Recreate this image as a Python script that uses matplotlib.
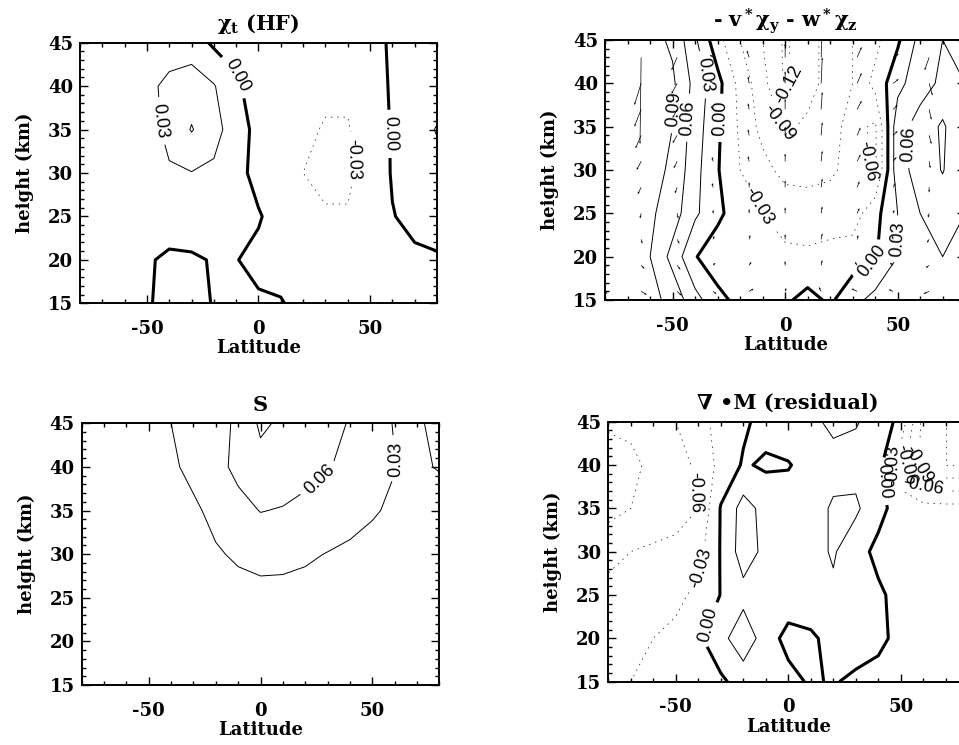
import matplotlib
matplotlib.use("Agg")
import numpy as np
import matplotlib.pyplot as plt
from matplotlib.ticker import MultipleLocator

# grid of the contour fields
lat = [-80, -70, -60, -50, -40, -30, -20, -10, 0, 10, 20, 30, 40, 50, 60, 70, 80]
height = [15, 20, 25, 30, 35, 40, 45]

# chi_t (HF), rows = height
chi_hf = [
    [0.004, 0.005, 0.004, 0.002, -0.006, -0.006, 0.001, 0.004, 0.004, 0.002, -0.01, -0.015, -0.015, -0.012, -0.01, -0.008, -0.006],
    [0.005, 0.006, 0.006, 0.003, -0.005, -0.004, 0.002, 0.001, -0.008, -0.012, -0.02, -0.025, -0.025, -0.02, -0.01, -0.004, -0.002],
    [0.006, 0.008, 0.01, 0.012, 0.015, 0.018, 0.016, 0.012, 0.003, -0.015, -0.025, -0.028, -0.028, -0.02, -0.001, 0.006, 0.008],
    [0.008, 0.01, 0.015, 0.02, 0.028, 0.029, 0.025, 0.012, -0.012, -0.025, -0.03, -0.035, -0.035, -0.018, 0.002, 0.012, 0.02],
    [0.008, 0.01, 0.015, 0.022, 0.035, 0.062, 0.04, 0.015, -0.01, -0.02, -0.025, -0.032, -0.032, -0.015, 0.002, 0.015, 0.032],
    [0.01, 0.012, 0.018, 0.025, 0.035, 0.045, 0.032, 0.005, -0.015, -0.02, -0.025, -0.025, -0.025, -0.012, 0.003, 0.01, 0.015],
    [0.01, 0.012, 0.015, 0.018, 0.02, 0.015, -0.005, -0.01, -0.015, -0.02, -0.02, -0.02, -0.02, -0.01, 0.004, 0.01, 0.012],
]

# - v* chi_y - w* chi_z
advection = [
    [0.1, 0.1, 0.1, 0.08, 0.04, 0.01, -0.01, -0.015, -0.005, 0.01, -0.005, 0.02, 0.04, 0.05, 0.06, 0.06, 0.05],
    [0.1, 0.1, 0.09, 0.05, 0.002, -0.02, -0.025, -0.025, -0.025, -0.025, -0.02, -0.015, -0.003, 0.03, 0.05, 0.06, 0.05],
    [0.1, 0.1, 0.095, 0.075, 0.035, 0.008, -0.02, -0.03, -0.04, -0.045, -0.045, -0.045, -0.01, 0.03, 0.06, 0.07, 0.06],
    [0.1, 0.1, 0.1, 0.085, 0.04, 0.002, -0.03, -0.05, -0.07, -0.07, -0.065, -0.05, -0.065, 0.05, 0.07, 0.092, 0.06],
    [0.1, 0.1, 0.1, 0.09, 0.045, 0.005, -0.035, -0.07, -0.095, -0.085, -0.07, -0.05, -0.065, 0.05, 0.07, 0.095, 0.06],
    [0.1, 0.1, 0.1, 0.095, 0.05, 0.01, -0.04, -0.08, -0.125, -0.1, -0.08, -0.06, -0.02, 0.02, 0.05, 0.065, 0.06],
    [0.1, 0.1, 0.1, 0.085, 0.035, -0.02, -0.06, -0.09, -0.125, -0.1, -0.08, -0.06, -0.04, -0.005, 0.04, 0.06, 0.05],
]

# S
source = [
    [0.0, 0.0, 0.0, 0.0, 0.001, 0.002, 0.003, 0.004, 0.005, 0.005, 0.004, 0.003, 0.002, 0.001, 0.0, 0.0, 0.0],
    [0.0, 0.0, 0.0, 0.001, 0.002, 0.004, 0.007, 0.009, 0.01, 0.01, 0.009, 0.008, 0.006, 0.004, 0.003, 0.002, 0.001],
    [0.0, 0.0, 0.001, 0.003, 0.006, 0.01, 0.015, 0.02, 0.022, 0.022, 0.02, 0.017, 0.013, 0.01, 0.007, 0.004, 0.003],
    [0.0, 0.0, 0.002, 0.005, 0.01, 0.017, 0.027, 0.034, 0.038, 0.037, 0.034, 0.029, 0.025, 0.02, 0.015, 0.01, 0.008],
    [0.0, 0.0, 0.005, 0.01, 0.015, 0.025, 0.038, 0.05, 0.061, 0.058, 0.052, 0.048, 0.04, 0.033, 0.025, 0.018, 0.015],
    [0.0, 0.002, 0.008, 0.015, 0.025, 0.038, 0.05, 0.068, 0.08, 0.078, 0.07, 0.062, 0.052, 0.04, 0.031, 0.025, 0.032],
    [0.0, 0.005, 0.01, 0.02, 0.03, 0.04, 0.05, 0.065, 0.095, 0.085, 0.075, 0.07, 0.058, 0.045, 0.028, 0.025, 0.04],
]

# div M (residual)
residual = [
    [-0.03, -0.03, -0.025, -0.02, -0.015, -0.005, 0.012, 0.015, 0.01, -0.004, 0.003, -0.008, -0.012, -0.012, -0.012, -0.012, -0.012],
    [-0.04, -0.035, -0.03, -0.025, -0.005, 0.02, 0.05, 0.015, -0.01, -0.005, 0.01, 0.02, 0.008, -0.01, -0.012, -0.012, -0.012],
    [-0.05, -0.045, -0.04, -0.035, -0.025, 0.001, 0.02, 0.02, 0.018, 0.02, 0.025, 0.02, 0.005, -0.01, -0.012, -0.012, -0.012],
    [-0.07, -0.06, -0.055, -0.05, -0.04, 0.002, 0.045, 0.022, 0.015, 0.02, 0.033, 0.012, -0.008, -0.012, -0.015, -0.015, -0.015],
    [-0.1, -0.09, -0.08, -0.075, -0.06, 0.002, 0.042, 0.02, 0.015, 0.02, 0.033, 0.035, 0.01, -0.015, -0.02, -0.02, -0.02],
    [-0.12, -0.1, -0.08, -0.07, -0.055, -0.02, 0.003, -0.004, -0.002, 0.012, 0.022, 0.02, 0.01, -0.05, -0.1, -0.12, -0.12],
    [-0.08, -0.08, -0.07, -0.06, -0.04, -0.02, -0.005, 0.01, 0.02, 0.025, 0.035, 0.032, 0.02, -0.01, -0.1, -0.12, -0.12],
]

# residual circulation arrows (v* in deg, w* in km)
q_lat = [-80, -64, -48, -32, -16, 0, 16, 32, 48, 64, 80]
q_height = [16, 19, 22, 25, 28, 31, 34, 37, 40, 43]
v_star = [
    [1.0, 2.5, 2.0, 1.5, 2.0, 0.5, -1.0, -2.5, -2.0, -2.5, -1.0],
    [0.5, 1.5, 1.5, 1.0, 1.0, 0.0, 0.5, -1.0, -1.5, -1.5, -1.0],
    [0.0, 0.5, 1.0, 0.5, 0.5, 0.0, 0.5, 0.5, -0.5, -1.0, -1.0],
    [0.0, -0.5, 0.5, 0.0, 0.0, 0.0, 0.5, 1.0, 0.5, -0.5, -0.5],
    [-0.5, -1.5, -1.0, -0.5, 0.0, 0.0, 0.5, 1.0, 1.0, 0.0, -0.5],
    [-1.5, -2.0, -1.5, -0.5, -0.5, 0.0, 0.5, 1.5, 1.5, 0.5, 0.0],
    [-2.0, -2.5, -2.0, -1.0, -0.5, 0.0, 0.5, 1.5, 2.0, 1.0, 0.0],
    [-2.5, -3.0, -2.0, -1.0, -0.5, 0.0, 0.5, 2.0, 2.0, 1.0, 0.0],
    [-3.0, -3.0, -2.5, -1.5, -0.5, 0.0, 0.5, 2.0, 2.5, 1.5, 0.5],
    [-3.0, -0.5, -2.5, -1.5, -1.0, 0.0, 0.5, 2.0, 2.5, -2.0, 0.5],
]
w_star = [
    [-0.3, -0.4, -0.5, -0.3, 0.3, 0.4, 0.5, 0.3, 0.2, -0.3, -0.3],
    [-0.3, -0.4, -0.5, 0.3, 0.4, 0.5, 0.6, 0.4, 0.3, -0.3, -0.4],
    [-0.4, -0.5, -0.5, 0.4, 0.5, 0.6, 0.7, 0.5, 0.4, -0.4, -0.5],
    [-0.5, -0.6, -0.6, 0.4, 0.5, 0.7, 0.8, 0.6, 0.4, -0.5, -0.6],
    [-0.6, -0.8, -0.7, 0.5, 0.6, 0.8, 1.0, 0.7, 0.5, -0.6, -0.7],
    [-1.0, -1.0, -0.8, 0.5, 0.6, 0.9, 1.2, 0.8, 0.5, -0.8, -0.9],
    [-3.5, -1.5, -0.9, 0.5, 0.7, 1.0, 1.5, 0.9, 0.5, -1.0, -1.0],
    [-1.2, -2.0, -1.0, 0.4, 0.7, 1.2, 2.0, 1.0, 0.5, -1.2, -1.2],
    [-1.5, -2.5, -1.2, 0.3, 0.8, 1.4, 3.0, 1.2, 0.5, -1.4, -1.4],
    [-1.8, -10.0, -1.5, 0.3, 0.8, 1.6, 4.0, 1.2, 0.4, -1.5, -1.5],
]

plt.rcParams['font.family'] = ['DejaVu Serif']
plt.rcParams['font.weight'] = 'bold'
plt.rcParams['axes.titleweight'] = 'bold'
plt.rcParams['axes.labelweight'] = 'bold'
plt.rcParams['axes.unicode_minus'] = False
plt.rcParams['mathtext.fontset'] = 'custom'
plt.rcParams['mathtext.rm'] = 'DejaVu Serif:bold'
plt.rcParams['mathtext.it'] = 'DejaVu Serif:bold'
plt.rcParams['mathtext.bf'] = 'DejaVu Serif:bold'


def style_axes(ax, title):
    ax.set_xlim(-80, 80)
    ax.set_ylim(15, 45)
    ax.xaxis.set_major_locator(MultipleLocator(50))
    ax.xaxis.set_minor_locator(MultipleLocator(10))
    ax.yaxis.set_major_locator(MultipleLocator(5))
    ax.yaxis.set_minor_locator(MultipleLocator(1))
    ax.tick_params(which='both', direction='in', top=True, right=True, width=1, labelsize=13)
    ax.tick_params(which='major', length=6)
    ax.tick_params(which='minor', length=3)
    ax.tick_params(axis='x', pad=12)
    ax.tick_params(axis='y', pad=5)
    for sp in ax.spines.values():
        sp.set_linewidth(1.4)
    ax.set_xlabel('Latitude', fontsize=13, fontweight='bold', labelpad=1)
    ax.set_ylabel('height (km)', fontsize=13, fontweight='bold', labelpad=10)
    ax.set_title(title, fontsize=15, fontweight='bold', pad=9)


def draw_field(ax, field, levels, label_pos):
    widths = [2.2 if lv == 0 else (0.5 if lv < 0 else 0.7) for lv in levels]
    styles = [(0, (2, 7)) if lv < 0 else 'solid' for lv in levels]
    cs = ax.contour(lat, height, np.array(field), levels=levels, colors='k',
                    linewidths=widths, linestyles=styles)
    ax.clabel(cs, fmt='%.2f', fontsize=13, inline=True, inline_spacing=2,
              manual=label_pos)
    for t in cs.labelTexts:
        t.set_family('Liberation Sans')
        t.set_weight('normal')
    return cs


fig = plt.figure(figsize=(9.59, 7.45), dpi=100)

ax1 = fig.add_axes([0.0834, 0.5929, 0.3723, 0.3498])
draw_field(ax1, chi_hf, [-0.06, -0.03, 0.0, 0.03, 0.06],
           [(-42, 36), (-12, 41), (57, 34.5), (40, 31.5)])
style_axes(ax1, r'$\chi_t$ (HF)')

ax2 = fig.add_axes([0.631, 0.5973, 0.3754, 0.349])
draw_field(ax2, advection, [-0.12, -0.09, -0.06, -0.03, 0.0, 0.03, 0.06, 0.09],
           [(-36, 41), (-41, 36), (-48, 37), (-27, 36), (1, 40), (-2, 35.5),
            (-10, 26), (38, 31), (55, 33), (52, 22), (40, 19)])
ax2.quiver(q_lat, q_height, np.array(v_star), np.array(w_star), angles='xy',
           scale_units='xy', scale=1, color='k', width=0.002, headwidth=3,
           headlength=3.5, headaxislength=3)
style_axes(ax2, r'- v$^*\chi_y$ - w$^*\chi_z$')

ax3 = fig.add_axes([0.0852, 0.0805, 0.3729, 0.3513])
draw_field(ax3, source, [0.03, 0.06, 0.09], [(25, 39), (62, 41)])
style_axes(ax3, 'S')

ax4 = fig.add_axes([0.6343, 0.085, 0.3754, 0.349])
draw_field(ax4, residual, [-0.12, -0.09, -0.06, -0.03, 0.0, 0.03, 0.06],
           [(-38, 37), (-37, 28), (-35, 21.5), (38, 38), (44, 40), (47, 40),
            (53, 39), (59, 39)])
style_axes(ax4, '∇ •M (residual)')

fig.savefig('out.png', dpi=100)
